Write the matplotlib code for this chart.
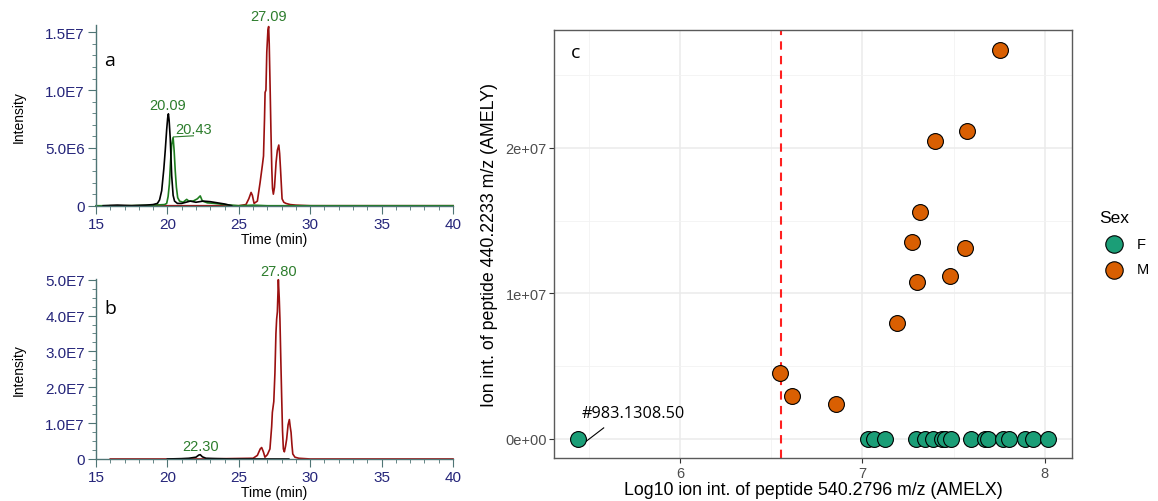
import matplotlib
matplotlib.use('Agg')
import matplotlib.pyplot as plt
from matplotlib.ticker import MultipleLocator, FixedLocator

plt.rcParams['font.family'] = ['Liberation Sans', 'DejaVu Sans']

# ---- panel a: chromatogram traces (time in min, intensity) ----
a_black_t = [15.5, 16.5, 17.5, 18.5, 19.0, 19.3, 19.45, 19.6, 19.75, 19.85, 19.95, 20.02, 20.07,
             20.12, 20.2, 20.3, 20.4, 20.5, 20.7, 21.0, 21.3, 21.6, 22.0, 22.5, 23.0, 23.5, 24.0, 24.5]
a_black_i = [0, 5e4, 0, 5e4, 1e5, 2e5, 5e5, 1.3e6, 3.2e6, 4.8e6, 6.6e6, 7.6e6, 7.95e6,
             7.4e6, 5.8e6, 2.6e6, 9e5, 4e5, 2e5, 2e5, 3e5, 4e5, 3e5, 4e5, 3.5e5, 2.5e5, 1.5e5, 0]

a_green_t = [15.0, 17.0, 19.0, 19.8, 19.95, 20.05, 20.14, 20.22, 20.3, 20.4, 20.47, 20.55, 20.63,
             20.72, 20.85, 21.1, 21.35, 21.5, 21.8, 22.1, 22.3, 22.45, 22.8, 23.3, 24.0, 25.0,
             26.0, 27.0, 30.0, 35.0, 40.0]
a_green_i = [0, 0, 5e4, 1e5, 2e5, 8e5, 1.9e6, 3.8e6, 5.3e6, 5.9e6, 4.8e6, 3.0e6, 1.6e6,
             7e5, 4e5, 3e5, 5.5e5, 4e5, 4e5, 6e5, 8.5e5, 4e5, 2.5e5, 2e5, 1e5, 0,
             5e4, 0, 0, 0, 0]

a_red_t = [16.0, 25.0, 25.5, 25.7, 25.86, 25.95, 26.07, 26.3, 26.49, 26.65, 26.73, 26.8, 26.84,
           26.9, 26.96, 27.04, 27.09, 27.13, 27.19, 27.25, 27.31, 27.36, 27.42, 27.5, 27.61,
           27.7, 27.8, 27.86, 27.92, 28.03, 28.15, 28.3, 28.6, 29.0, 30.0, 35.0, 40.0]
a_red_i = [0, 0, 1e5, 6e5, 1.15e6, 9e5, 2e5, 4e5, 2.0e6, 3.5e6, 4.3e6, 7.5e6, 9.8e6,
           1.0e7, 1.33e7, 1.52e7, 1.55e7, 1.4e7, 1.04e7, 6.5e6, 3.2e6, 1.5e6, 1.0e6, 1.6e6, 3.75e6,
           4.8e6, 5.25e6, 4.5e6, 3.2e6, 6e5, 3e5, 2e5, 1e5, 5e4, 0, 0, 0]

# ---- panel b ----
b_black_t = [20.0, 21.0, 21.5, 22.0, 22.2, 22.3, 22.45, 22.7, 23.5, 24.5, 26.0, 28.5]
b_black_i = [0, 1e5, 2e5, 5e5, 1.1e6, 1.2e6, 6e5, 2e5, 1e5, 0, 0, 0]

b_red_t = [16.0, 17.0, 22.5, 26.0, 26.3, 26.5, 26.6, 26.72, 26.83, 27.0, 27.18, 27.3, 27.35,
           27.45, 27.53, 27.6, 27.65, 27.7, 27.77, 27.83, 27.88, 27.94, 28.0, 28.06, 28.12,
           28.19, 28.27, 28.35, 28.45, 28.54, 28.6, 28.66, 28.72, 28.78, 28.93, 29.2, 30.0, 40.0]
b_red_i = [0, 0, 0, 2e5, 1e6, 2.8e6, 3.2e6, 2e6, 5e5, 1.2e6, 2.8e6, 9e6, 1.3e7,
           1.6e7, 2.4e7, 3.5e7, 3.9e7, 4.1e7, 5.0e7, 4.5e7, 3.9e7, 2.8e7, 1.76e7, 8e6, 2.8e6,
           2.0e6, 3.5e6, 5.5e6, 9.5e6, 1.1e7, 9e6, 7.4e6, 4e6, 1.4e6, 5e5, 2e5, 0, 0]

# ---- panel c: log10 AMELX vs AMELY intensity ----
f_x = [5.437, 7.031, 7.063, 7.123, 7.296, 7.342, 7.388, 7.436, 7.454, 7.485,
       7.596, 7.675, 7.688, 7.770, 7.807, 7.890, 7.936, 8.018]
f_y = [0] * len(f_x)
m_x = [6.549, 6.614, 6.853, 7.187, 7.301, 7.272, 7.314, 7.480, 7.564, 7.399, 7.574, 7.753]
m_y = [4.51e6, 2.93e6, 2.38e6, 7.96e6, 1.078e7, 1.35e7, 1.56e7, 1.119e7, 1.311e7,
       2.047e7, 2.119e7, 2.677e7]
cutoff = 6.55

navy = '#25257a'
spine = '#4f7575'
peak_green = '#2d7d2d'

fig = plt.figure(figsize=(11.58, 5.02), dpi=100)


def chrom_axes(rect, ymax, major, minor, labels):
    ax = fig.add_axes(rect)
    ax.set_xlim(15, 40)
    ax.set_ylim(0, ymax)
    for s in ['top', 'right']:
        ax.spines[s].set_visible(False)
    for s in ['left', 'bottom']:
        ax.spines[s].set_color(spine)
        ax.spines[s].set_linewidth(1.0)
    ax.xaxis.set_major_locator(MultipleLocator(5))
    ax.xaxis.set_minor_locator(MultipleLocator(1))
    ax.yaxis.set_major_locator(FixedLocator(major))
    ax.yaxis.set_minor_locator(MultipleLocator(minor))
    ax.set_yticklabels(labels)
    ax.tick_params(which='major', length=6, color=spine, labelcolor=navy, labelsize=11, pad=2)
    ax.tick_params(which='minor', length=3, color=spine)
    ax.set_xlabel('Time (min)', fontsize=10, labelpad=1)
    ax.set_ylabel('Intensity', fontsize=10, labelpad=14)
    ax.patch.set_alpha(0)
    return ax


ax_a = chrom_axes([0.0829, 0.5882, 0.3083, 0.3592], 1.56e7,
                  [0, 5e6, 1e7, 1.5e7], 1e6, ['0', '5.0E6', '1.0E7', '1.5E7'])
ax_a.plot(a_red_t, a_red_i, color='#9b1010', lw=1.2, clip_on=False)
ax_a.plot(a_green_t, a_green_i, color='#1e7d1e', lw=1.2, clip_on=False)
ax_a.plot(a_black_t, a_black_i, color='black', lw=1.2, clip_on=False)
ax_a.text(27.09, 1.58e7, '27.09', color=peak_green, fontsize=10.5, ha='center', va='bottom')
ax_a.text(20.05, 8.1e6, '20.09', color=peak_green, fontsize=10.5, ha='center', va='bottom')
ax_a.plot([20.43, 21.82], [5.95e6, 6.05e6], color=peak_green, lw=0.8)
ax_a.text(21.85, 6.0e6, '20.43', color=peak_green, fontsize=10.5, ha='center', va='bottom')
ax_a.text(15.6, 1.26e7, 'a', fontsize=14, family=['Open Sans', 'DejaVu Sans'], va='center')

ax_b = chrom_axes([0.0829, 0.0837, 0.3083, 0.3586], 5.02e7,
                  [0, 1e7, 2e7, 3e7, 4e7, 5e7], 2.5e6,
                  ['0', '1.0E7', '2.0E7', '3.0E7', '4.0E7', '5.0E7'])
ax_b.plot(b_red_t, b_red_i, color='#9b1010', lw=1.2, clip_on=False)
ax_b.plot(b_black_t, b_black_i, color='black', lw=1.2, clip_on=False)
ax_b.text(27.80, 5.05e7, '27.80', color=peak_green, fontsize=10.5, ha='center', va='bottom')
ax_b.text(22.30, 1.6e6, '22.30', color=peak_green, fontsize=10.5, ha='center', va='bottom')
ax_b.text(15.6, 4.2e7, 'b', fontsize=14, family=['Open Sans', 'DejaVu Sans'], va='center')

# ---- panel c ----
ax_c = fig.add_axes([0.4787, 0.0851, 0.4468, 0.8531])
ax_c.set_xlim(5.308, 8.149)
ax_c.set_ylim(-1.34e6, 2.811e7)
ax_c.xaxis.set_major_locator(FixedLocator([6, 7, 8]))
ax_c.xaxis.set_minor_locator(FixedLocator([5.5, 6.5, 7.5]))
ax_c.yaxis.set_major_locator(FixedLocator([0, 1e7, 2e7]))
ax_c.yaxis.set_minor_locator(FixedLocator([5e6, 1.5e7, 2.5e7]))
ax_c.set_xticklabels(['6', '7', '8'])
ax_c.set_yticklabels(['0e+00', '1e+07', '2e+07'])
ax_c.grid(which='major', color='#ebebeb', lw=1.1)
ax_c.grid(which='minor', color='#f2f2f2', lw=0.6)
ax_c.set_axisbelow(True)
for s in ax_c.spines.values():
    s.set_color('#5a5a5a')
    s.set_linewidth(1.0)
ax_c.tick_params(which='major', length=3.5, color='#333333', labelcolor='#4d4d4d',
                 labelsize=10.5, pad=2)
ax_c.tick_params(which='minor', length=0)

ax_c.axvline(cutoff, color='#ff2020', lw=1.5, ls=(0, (4, 3)), zorder=2)
ax_c.scatter(f_x, f_y, s=130, color='#1b9e77', edgecolor='black', lw=0.8, zorder=3, label='F')
ax_c.scatter(m_x, m_y, s=130, color='#d95f02', edgecolor='black', lw=0.8, zorder=3, label='M')
ax_c.plot([5.479, 5.579], [-2.1e5, 7.5e5], color='black', lw=0.8)
ax_c.text(5.457, 1.78e6, '#983.1308.50', fontsize=11.7, va='center', ha='left',
          family=['Open Sans', 'DejaVu Sans'])
ax_c.text(5.40, 2.66e7, 'c', fontsize=14, va='center', family=['Open Sans', 'DejaVu Sans'])

ax_c.set_xlabel('Log10 ion int. of peptide 540.2796 m/z (AMELX)', fontsize=12.8, labelpad=1)
ax_c.set_ylabel('Ion int. of peptide 440.2233 m/z (AMELY)', fontsize=12.8, labelpad=5)

ax_c.legend(title='Sex', loc='upper left', bbox_to_anchor=(1086 / 1158, 1 - 198 / 502),
            bbox_transform=fig.transFigure, frameon=False, fontsize=10.5, title_fontsize=12.5,
            handletextpad=0.6, labelspacing=0.8, alignment='left', markerscale=1.1)

fig.savefig('out.png', dpi=100)
